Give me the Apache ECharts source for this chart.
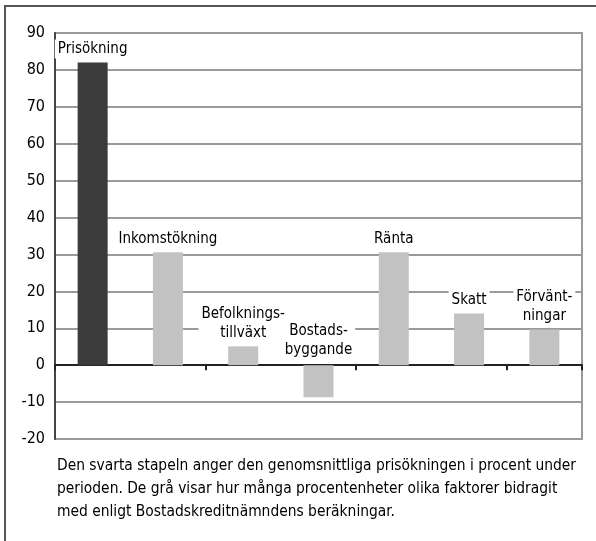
<!DOCTYPE html>
<html>
<head>
<meta charset="utf-8">
<script src="https://cdn.jsdelivr.net/npm/echarts@6/dist/echarts.min.js"></script>
<style>
  html, body { margin: 0; padding: 0; background: #fff; }
  #chart { width: 596px; height: 541px; }
</style>
</head>
<body>
<div id="chart"></div>
<script>
// kategorier och värden (procent / procentenheter)
const categories = ['Prisökning', 'Inkomstökning', 'Befolkningstillväxt', 'Bostadsbyggande', 'Ränta', 'Skatt', 'Förväntningar']
const barLabels = ['Prisökning', 'Inkomstökning', 'Befolknings-\ntillväxt', 'Bostads-\nbyggande', 'Ränta', 'Skatt', 'Förvänt-\nningar']
const values = [82, 30.6, 5.1, -8.7, 30.6, 14, 9.7]
const barColors = ['#3b3b3b', '#c2c2c2', '#c2c2c2', '#c2c2c2', '#c2c2c2', '#c2c2c2', '#c2c2c2']
const yTicks = { min: -20, max: 90, interval: 10 }
const caption = 'Den svarta stapeln anger den genomsnittliga prisökningen i procent under\nperioden. De grå visar hur många procentenheter olika faktorer bidragit\nmed enligt Bostadskreditnämndens beräkningar.'

const font = '"Liberation Sans Narrow", "DejaVu Sans Condensed", "Roboto", sans-serif'

const chart = echarts.init(document.getElementById('chart'))

const barData = values.map((v, i) => ({
    value: v,
    itemStyle: { color: barColors[i] },
    label: {
        position: v < 0 ? 'insideBottom' : 'top',
        offset: v < 0 ? [0, -34] : [0, 0]
    }
}))

const option = {
    animation: false,
    textStyle: { fontFamily: font },
    grid: {
        left: 55,
        right: 14,
        top: 33,
        bottom: 102,
        show: true,
        borderColor: '#9a9a9a',
        borderWidth: 2
    },
    xAxis: {
        type: 'category',
        data: categories,
        axisLine: { lineStyle: { color: '#222', width: 2 } },
        axisTick: { show: true, length: 5, lineStyle: { color: '#222', width: 2 } },
        axisLabel: { show: false },
        splitLine: { show: false }
    },
    yAxis: {
        type: 'value',
        min: yTicks.min,
        max: yTicks.max,
        interval: yTicks.interval,
        axisLine: { show: true, lineStyle: { color: '#444', width: 2 } },
        axisTick: { show: false },
        axisLabel: { fontSize: 16, color: '#000', margin: 10, fontFamily: font },
        splitLine: { lineStyle: { color: '#9a9a9a', width: 2 } }
    },
    series: [{
        type: 'bar',
        data: barData,
        barWidth: 30,
        label: {
            show: true,
            distance: 4,
            fontSize: 15,
            lineHeight: 19,
            color: '#000',
            fontFamily: font,
            backgroundColor: '#fff',
            padding: [0, 3],
            formatter: p => barLabels[p.dataIndex]
        }
    }],
    graphic: [
        {
            type: 'polyline',
            shape: { points: [[5, 541], [5, 6], [596, 6]] },
            style: { stroke: '#555', lineWidth: 2, fill: null }
        },
        {
            type: 'text',
            left: 57,
            top: 454,
            style: {
                text: caption,
                fontSize: 15.4,
                lineHeight: 23,
                fill: '#000',
                fontFamily: font
            }
        }
    ]
}

chart.setOption(option)
</script>
</body>
</html>
